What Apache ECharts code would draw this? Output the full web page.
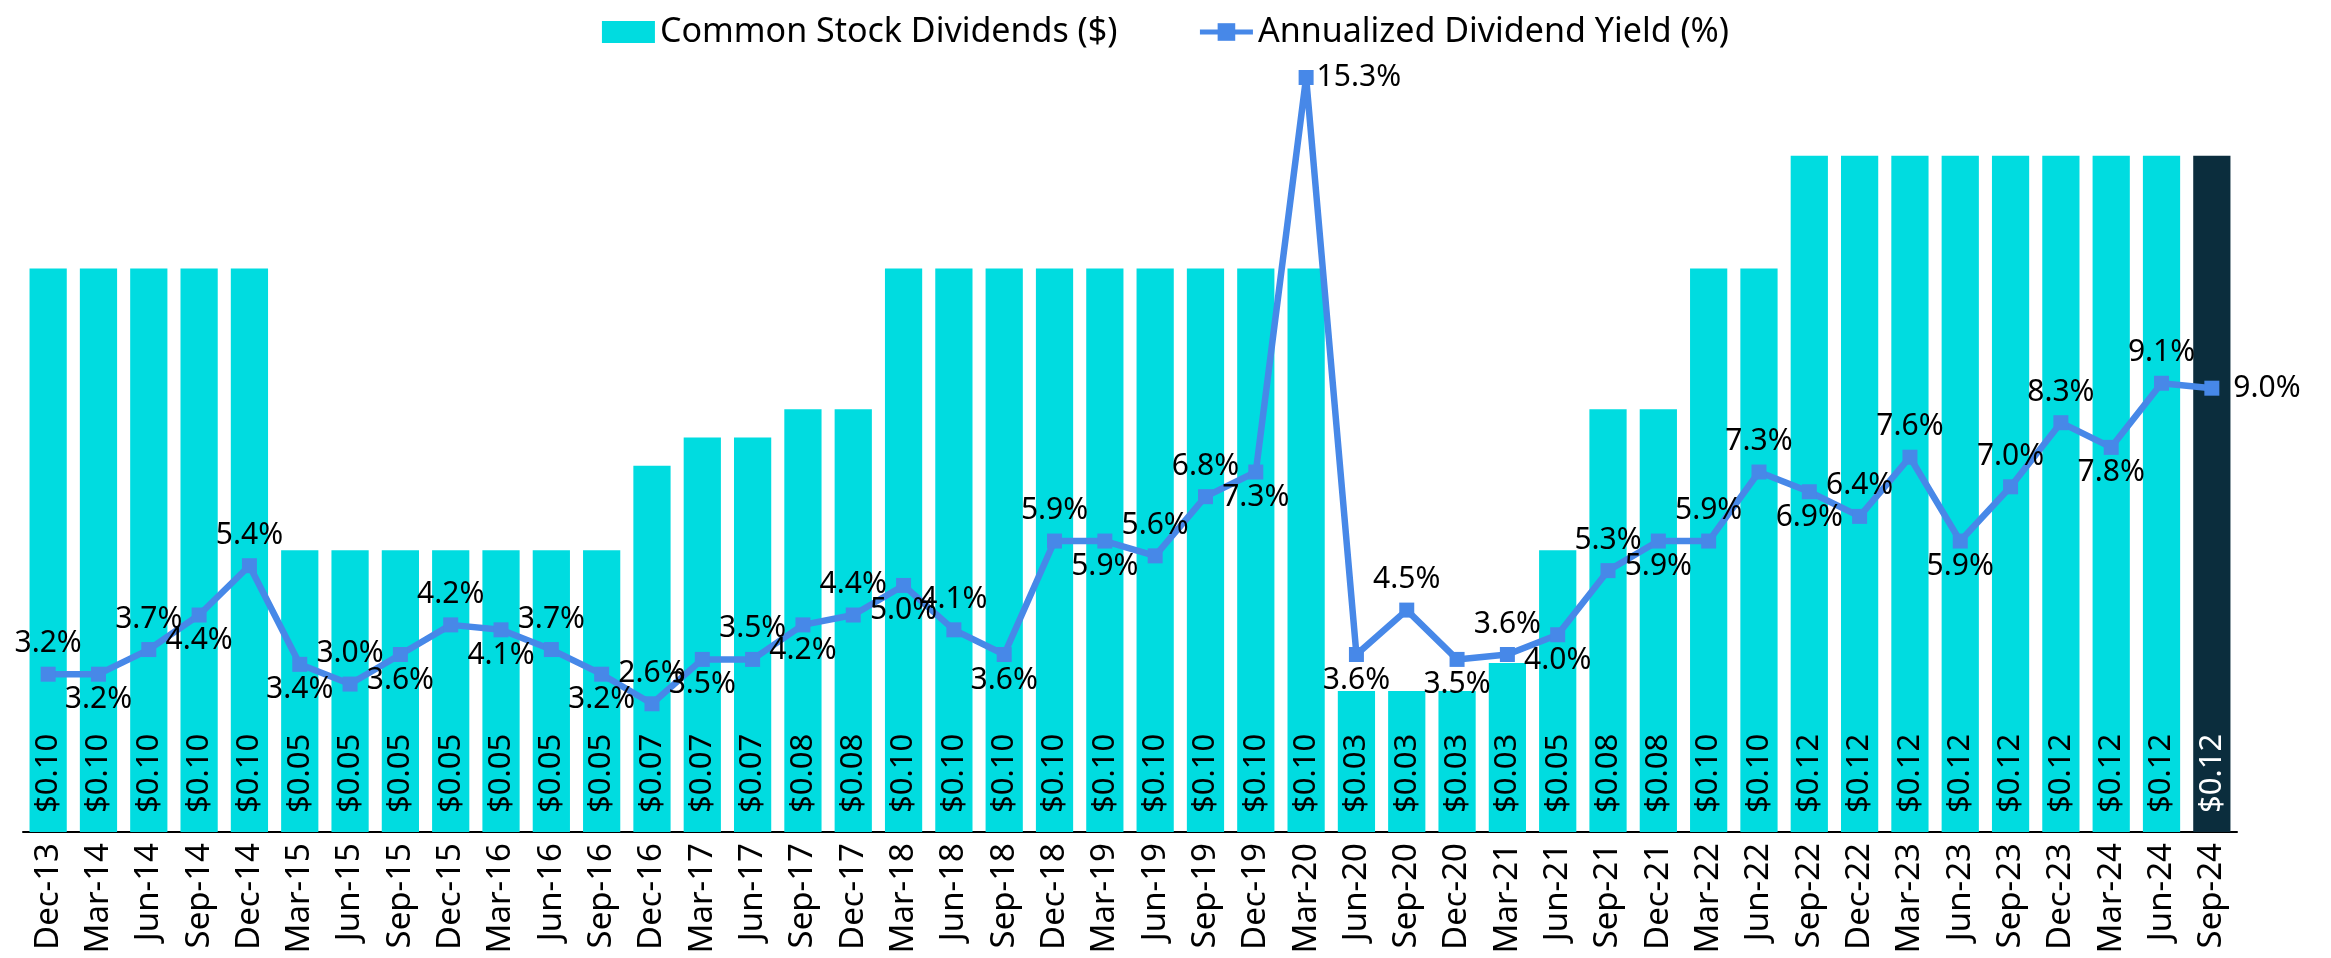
<!DOCTYPE html>
<html>
<head>
<meta charset="utf-8">
<title>Common Stock Dividends and Yield</title>
<script src="https://cdn.jsdelivr.net/npm/echarts@6/dist/echarts.min.js"></script>
<style>
  html, body { margin: 0; padding: 0; background: #fff; }
  #chart { width: 2331px; height: 958px; }
</style>
</head>
<body>
<div id="chart"></div>
<script>
var quarters = [
  'Dec-13', 'Mar-14', 'Jun-14', 'Sep-14', 'Dec-14', 'Mar-15', 'Jun-15', 'Sep-15',
  'Dec-15', 'Mar-16', 'Jun-16', 'Sep-16', 'Dec-16', 'Mar-17', 'Jun-17', 'Sep-17',
  'Dec-17', 'Mar-18', 'Jun-18', 'Sep-18', 'Dec-18', 'Mar-19', 'Jun-19', 'Sep-19',
  'Dec-19', 'Mar-20', 'Jun-20', 'Sep-20', 'Dec-20', 'Mar-21', 'Jun-21', 'Sep-21',
  'Dec-21', 'Mar-22', 'Jun-22', 'Sep-22', 'Dec-22', 'Mar-23', 'Jun-23', 'Sep-23',
  'Dec-23', 'Mar-24', 'Jun-24', 'Sep-24'
]

// common stock dividends per quarter ($)
var dividends = [
  0.10, 0.10, 0.10, 0.10, 0.10, 0.05, 0.05, 0.05,
  0.05, 0.05, 0.05, 0.05, 0.065, 0.07, 0.07, 0.075,
  0.075, 0.10, 0.10, 0.10, 0.10, 0.10, 0.10, 0.10,
  0.10, 0.10, 0.025, 0.025, 0.025, 0.03, 0.05, 0.075,
  0.075, 0.10, 0.10, 0.12, 0.12, 0.12, 0.12, 0.12,
  0.12, 0.12, 0.12, 0.12
]

// annualized dividend yield (%)
var yields = [
  3.2, 3.2, 3.7, 4.4, 5.4, 3.4, 3.0, 3.6,
  4.2, 4.1, 3.7, 3.2, 2.6, 3.5, 3.5, 4.2,
  4.4, 5.0, 4.1, 3.6, 5.9, 5.9, 5.6, 6.8,
  7.3, 15.3, 3.6, 4.5, 3.5, 3.6, 4.0, 5.3,
  5.9, 5.9, 7.3, 6.9, 6.4, 7.6, 5.9, 7.0,
  8.3, 7.8, 9.1, 9.0
]

// where each yield label sits relative to its point
var yieldLabelPos = [
  'top', 'bottom', 'top', 'bottom', 'top', 'bottom', 'top', 'bottom',
  'top', 'bottom', 'top', 'bottom', 'top', 'bottom', 'top', 'bottom',
  'top', 'bottom', 'top', 'bottom', 'top', 'bottom', 'top', 'top',
  'bottom', 'right', 'bottom', 'top', 'bottom', 'top', 'bottom', 'top',
  'bottom', 'top', 'top', 'bottom', 'top', 'top', 'bottom', 'top',
  'top', 'bottom', 'top', 'right'
]

var cyan = '#00DCE0'
var navy = '#0B2D3D'
var blue = '#4788E8'
var font = "'Noto Sans', sans-serif"

var lastIdx = dividends.length - 1

var barData = dividends.map(function (v, i) {
  if (i !== lastIdx) return v
  return {
    value: v,
    itemStyle: { color: navy },
    label: { color: '#fff' }
  }
})

var lineData = yields.map(function (v, i) {
  var pos = yieldLabelPos[i]
  var dist = pos === 'top' ? 8 : 3
  if (pos === 'right') dist = i === lastIdx ? 14 : 3
  return {
    value: v,
    label: { position: pos, distance: dist }
  }
})

var chart = echarts.init(document.getElementById('chart'))

var option = {
  animation: false,
  backgroundColor: '#fff',
  textStyle: { fontFamily: font },
  legend: {
    top: 10,
    left: 'center',
    itemWidth: 53,
    itemHeight: 22,
    itemGap: 80,
    lineStyle: { width: 5 },
    textStyle: { fontSize: 34, color: '#000', fontFamily: font },
    data: [
      { name: 'Common Stock Dividends ($)', icon: 'rect' },
      { name: 'Annualized Dividend Yield (%)' }
    ]
  },
  grid: {
    left: 23,
    right: 94,
    top: 43,
    bottom: 126
  },
  xAxis: {
    type: 'category',
    data: quarters,
    axisLine: { lineStyle: { color: '#000', width: 2 } },
    axisTick: { show: false },
    axisLabel: {
      rotate: 90,
      interval: 0,
      margin: 11,
      fontSize: 33,
      color: '#000',
      fontFamily: font
    }
  },
  yAxis: [
    {
      type: 'value',
      min: 0,
      max: 0.14,
      show: false,
      splitLine: { show: false }
    },
    {
      type: 'value',
      min: 0,
      max: 16,
      show: false,
      splitLine: { show: false }
    }
  ],
  series: [
    {
      name: 'Common Stock Dividends ($)',
      type: 'bar',
      barCategoryGap: '26%',
      itemStyle: { color: cyan },
      label: {
        show: true,
        position: 'insideBottom',
        rotate: 90,
        align: 'left',
        verticalAlign: 'middle',
        distance: 19,
        fontSize: 31,
        color: '#000',
        fontFamily: font,
        formatter: function (p) {
          return '$' + (p.value + 1e-9).toFixed(2)
        }
      },
      data: barData
    },
    {
      name: 'Annualized Dividend Yield (%)',
      type: 'line',
      yAxisIndex: 1,
      symbol: 'rect',
      symbolSize: 15,
      z: 5,
      itemStyle: { color: blue },
      lineStyle: { color: blue, width: 6.5 },
      label: {
        show: true,
        fontSize: 30,
        color: '#000',
        fontFamily: font,
        formatter: function (p) {
          return p.value.toFixed(1) + '%'
        }
      },
      data: lineData
    }
  ]
}

chart.setOption(option)
</script>
</body>
</html>
